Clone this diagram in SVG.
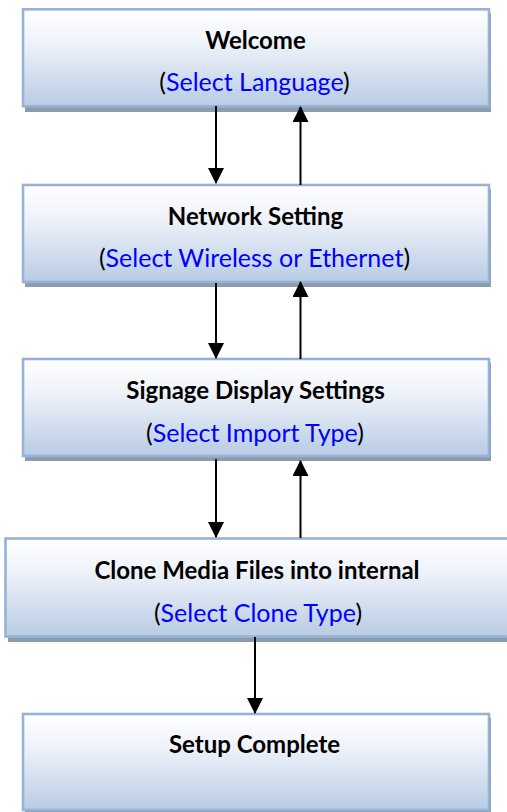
<svg xmlns="http://www.w3.org/2000/svg" width="507" height="812" viewBox="0 0 507 812">
<defs>
<linearGradient id="g" x1="0" y1="0" x2="0" y2="1">
<stop offset="0" stop-color="#ffffff"/>
<stop offset="0.35" stop-color="#eef2f9"/>
<stop offset="1" stop-color="#b8cce4"/>
</linearGradient>
<marker id="ah" markerUnits="userSpaceOnUse" markerWidth="16" markerHeight="16" viewBox="0 0 16 16" refX="15" refY="8" orient="auto">
<path d="M0,0 L16,8 L0,16 Z" fill="#000"/>
</marker>
<style>
.shadow{fill:#8e9bab}
.box{fill:url(#g);stroke:#95b3d7;stroke-width:2.6}
.t{font-family:Lato,"Liberation Sans",sans-serif;font-weight:bold;font-size:24px;fill:#000;text-anchor:middle}
.s{font-family:Lato,"Liberation Sans",sans-serif;font-size:25px;fill:#000;text-anchor:middle}
.b{fill:#0000ff}
.c{stroke:#000;stroke-width:2;fill:none;marker-end:url(#ah)}
</style>
</defs>
<g id="n1">
<rect class="shadow" x="25" y="13" width="466" height="99"/>
<rect class="box" x="23" y="9.3" width="466" height="97"/>
<text class="t" x="255.5" y="49">Welcome</text>
<text class="s" x="254.5" y="91">(<tspan class="b">Select Language</tspan>)</text>
</g>
<g id="n2">
<rect class="shadow" x="25" y="189" width="466" height="98"/>
<rect class="box" x="23" y="185" width="466" height="97"/>
<text class="t" x="255.5" y="225">Network Setting</text>
<text class="s" x="254.5" y="267">(<tspan class="b">Select Wireless or Ethernet</tspan>)</text>
</g>
<g id="n3">
<rect class="shadow" x="25" y="363" width="466" height="98"/>
<rect class="box" x="23" y="359" width="466" height="97"/>
<text class="t" x="255.5" y="399">Signage Display Settings</text>
<text class="s" x="255" y="442">(<tspan class="b">Select Import Type</tspan>)</text>
</g>
<g id="n4">
<rect class="shadow" x="8" y="543" width="510" height="99"/>
<rect class="box" x="5.5" y="538.5" width="510" height="98"/>
<text class="t" x="257" y="579">Clone Media Files into internal</text>
<text class="s" x="258" y="622">(<tspan class="b">Select Clone Type</tspan>)</text>
</g>
<g id="n5">
<rect class="shadow" x="25" y="718" width="466" height="98"/>
<rect class="box" x="23" y="714" width="466" height="96"/>
<text class="t" x="254.5" y="753">Setup Complete</text>
</g>
<g id="connectors">
<line class="c" x1="216" y1="106" x2="216" y2="183"/>
<line class="c" x1="300.5" y1="185" x2="300.5" y2="107"/>
<line class="c" x1="216" y1="283" x2="216" y2="358"/>
<line class="c" x1="300.5" y1="359" x2="300.5" y2="282"/>
<line class="c" x1="216" y1="459" x2="216" y2="537"/>
<line class="c" x1="300.5" y1="538" x2="300.5" y2="461"/>
<line class="c" x1="255" y1="637" x2="255" y2="713"/>
</g>
</svg>
